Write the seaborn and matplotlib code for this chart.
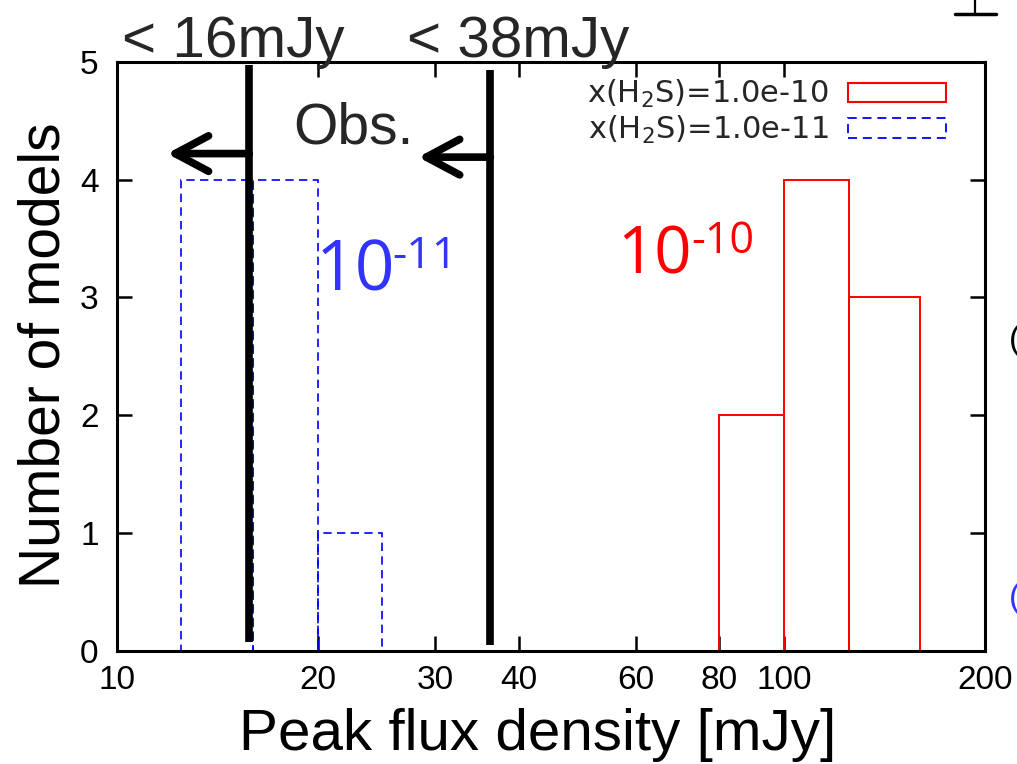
import numpy as np
import pandas as pd
import matplotlib
matplotlib.use("Agg")
import matplotlib.pyplot as plt
import seaborn as sns
from matplotlib.patches import Patch
from matplotlib.lines import Line2D
from matplotlib.ticker import FixedLocator, FixedFormatter, NullLocator

# ---------------- data ----------------
blue_edges = [12.5, 16, 20, 25]          # x(H2S)=1e-11 bins [mJy]
blue_counts = [4, 4, 1]
red_edges = [80, 100, 125, 160]          # x(H2S)=1e-10 bins [mJy]
red_counts = [2, 4, 3]
obs_limits = [15.8, 36.3]                # observed upper limits (vertical lines)
obs_line_bottom = [0.07, 0.05]
obs_line_top = [4.97, 4.93]
arrow_tips = [11.9, 28.3]
arrow_y = [4.22, 4.19]
obs_labels = ["< 16mJy", "< 38mJy"]
xticks = [10, 20, 30, 40, 60, 80, 100, 200]
yticks = [0, 1, 2, 3, 4, 5]
legend_labels = [r"x(H$_2$S)=1.0e-10", r"x(H$_2$S)=1.0e-11"]

W, H = 1017, 764


def fxy(x, y):
    return (x / W, 1 - y / H)


sns.set_theme(style="ticks")
plt.rcParams["font.family"] = ["Liberation Sans", "DejaVu Sans"]
plt.rcParams["mathtext.fontset"] = "dejavusans"

fig = plt.figure(figsize=(W / 100, H / 100), dpi=100)
ax_l, ax_r, ax_t, ax_b = 116.7, 985.0, 61.7, 650.7
ax = fig.add_axes([ax_l / W, 1 - ax_b / H, (ax_r - ax_l) / W, (ax_b - ax_t) / H])


def centers(edges):
    return [(a + b) / 2 for a, b in zip(edges[:-1], edges[1:])]


sns.histplot(x=centers(red_edges), weights=red_counts, bins=red_edges,
             fill=False, color="#ff0000", linewidth=1.4, ax=ax)
sns.histplot(x=centers(blue_edges), weights=blue_counts, bins=blue_edges,
             fill=False, color="#0000ff", linewidth=1.2,
             linestyle=(0, (5, 3.2)), ax=ax)

ax.set_xscale("log")
ax.set_xlim(10, 200)
ax.set_ylim(0, 5)

ax.xaxis.set_major_locator(FixedLocator(xticks))
ax.xaxis.set_major_formatter(FixedFormatter([str(t) for t in xticks]))
ax.xaxis.set_minor_locator(NullLocator())
ax.yaxis.set_major_locator(FixedLocator(yticks))
ax.yaxis.set_minor_locator(NullLocator())
ax.tick_params(which="both", direction="in", top=True, right=True,
               length=11, width=1.8, labelsize=24, colors="black")
ax.tick_params(axis="x", pad=10)
ax.tick_params(axis="y", pad=13)
for s in ax.spines.values():
    s.set_linewidth(2.2)
    s.set_color("black")
    s.set_visible(True)

# observed limits
for x, b, t, tip, y in zip(obs_limits, obs_line_bottom, obs_line_top, arrow_tips, arrow_y):
    ax.plot([x, x], [b, t], color="black", lw=5.5, solid_capstyle="butt", zorder=5)
    ax.annotate("", xy=(tip, y), xytext=(x, y),
                arrowprops=dict(arrowstyle="->,head_length=0.6,head_width=0.32",
                                lw=5.5, color="black", shrinkA=0, shrinkB=0,
                                mutation_scale=40, capstyle="round",
                                joinstyle="round"), zorder=6)

# labels
ax.set_ylabel("Number of models", fontsize=41, color="black")
ax.yaxis.set_label_coords((44.5 - ax_l) / (ax_r - ax_l), (ax_b - 355) / (ax_b - ax_t))
ax.yaxis.label.set_va("center")
ax.set_xlabel("Peak flux density [mJy]", fontsize=42, color="black")
ax.xaxis.set_label_coords((538 - ax_l) / (ax_r - ax_l), (ax_b - 750) / (ax_b - ax_t))
ax.xaxis.label.set_va("baseline")

# text annotations
fig.text(*fxy(122, 57), obs_labels[0], fontsize=42, ha="left", va="baseline")
fig.text(*fxy(407, 57), obs_labels[1], fontsize=42, ha="left", va="baseline")
fig.text(*fxy(293, 143), "Obs.", fontsize=41, ha="left", va="baseline")

fig.text(*fxy(316, 290), "10", fontsize=50, family="Open Sans", color="#3333ff",
         ha="left", va="baseline")
fig.text(*fxy(392, 268), "-11", fontsize=32, family="Open Sans", color="#3333ff",
         ha="left", va="baseline")
fig.text(*fxy(617, 274), "10", fontsize=47, family="Open Sans", color="#ff0000",
         ha="left", va="baseline")
fig.text(*fxy(691, 253), "-10", fontsize=31, family="Open Sans", color="#ff0000",
         ha="left", va="baseline")

# legend
handles = [Patch(facecolor="none", edgecolor="#ff0000", lw=1.5),
           Patch(facecolor="none", edgecolor="#0000ff", lw=1.3, linestyle=(0, (5, 3.2)))]
ax.legend(handles, legend_labels, loc="upper right",
          bbox_to_anchor=fxy(946, 78), bbox_transform=fig.transFigure,
          frameon=False, markerfirst=False, prop={"family": "DejaVu Sans", "size": 22},
          handlelength=3.2, handleheight=0.6, handletextpad=0.65,
          labelspacing=0.12, borderpad=0, borderaxespad=0)

# cropped fragments of neighbouring slide content
fig.add_artist(Line2D([955 / W, 996 / W], [1 - 14 / H] * 2, transform=fig.transFigure,
                      color="black", lw=2.5))
fig.add_artist(Line2D([975 / W, 975 / W], [1.0, 1 - 14 / H], transform=fig.transFigure,
                      color="black", lw=1.6))
fig.text(*fxy(1009, 340), "(", fontsize=24, ha="left", va="center", color="black")
fig.text(*fxy(1009, 598), "(", fontsize=24, ha="left", va="center", color="#3333ff")

fig.savefig("out.png", dpi=100)
